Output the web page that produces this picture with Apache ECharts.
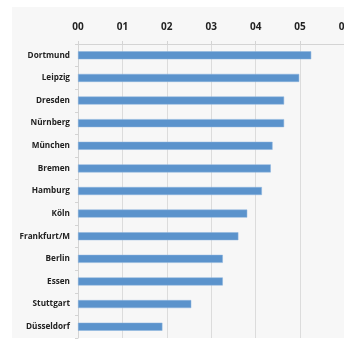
<!DOCTYPE html>
<html><head><meta charset="utf-8">
<script src="https://cdn.jsdelivr.net/npm/echarts@6/dist/echarts.min.js"></script>
<style>html,body{margin:0;padding:0;background:#fff}#c{width:344px;height:340px}</style>
</head><body><div id="c"></div>
<script>
const cities = ['Dortmund','Leipzig','Dresden','Nürnberg','München','Bremen','Hamburg','Köln','Frankfurt/M','Berlin','Essen','Stuttgart','Düsseldorf'];
const values = [5.25, 4.98, 4.64, 4.64, 4.38, 4.34, 4.14, 3.81, 3.61, 3.26, 3.26, 2.55, 1.90];
const tickLabels = ['00','01','02','03','04','05','06'];

const chart = echarts.init(document.getElementById('c'), null, {renderer:'canvas'});
chart.setOption({
  animation:false,
  backgroundColor:'#fff',
  graphic:[{type:'rect', shape:{x:12,y:7,width:340,height:331}, style:{fill:'#f7f7f7'}, z:-10, silent:true}],
  grid:{left:78, top:44, width:266.5, height:294, containLabel:false, outerBoundsMode:'none'},
  xAxis:{type:'value', position:'top', min:0, max:6, interval:1,
    axisLine:{show:true, lineStyle:{color:'#d4d4d4'}},
    axisTick:{show:true, length:3, lineStyle:{color:'#d4d4d4'}},
    splitLine:{show:true, lineStyle:{color:'#dcdcdc'}},
    axisLabel:{margin:12, fontFamily:'Open Sans', fontWeight:'bold', fontSize:10, color:'#222',
      alignMaxLabel:'center', hideOverlap:false,
      formatter:(v)=>tickLabels[Math.round(v)]}},
  yAxis:{type:'category', inverse:true, data:cities,
    axisLine:{show:true, lineStyle:{color:'#d4d4d4'}},
    axisTick:{show:true, length:3, lineStyle:{color:'#d4d4d4'}},
    axisLabel:{margin:8, fontFamily:'Open Sans', fontWeight:'bold', fontSize:8.2, color:'#222'}},
  series:[{type:'bar', data:values, barWidth:8,
    itemStyle:{color:'#5b93cc', borderColor:'#8db4de', borderWidth:0.5}}]
});
</script></body></html>
